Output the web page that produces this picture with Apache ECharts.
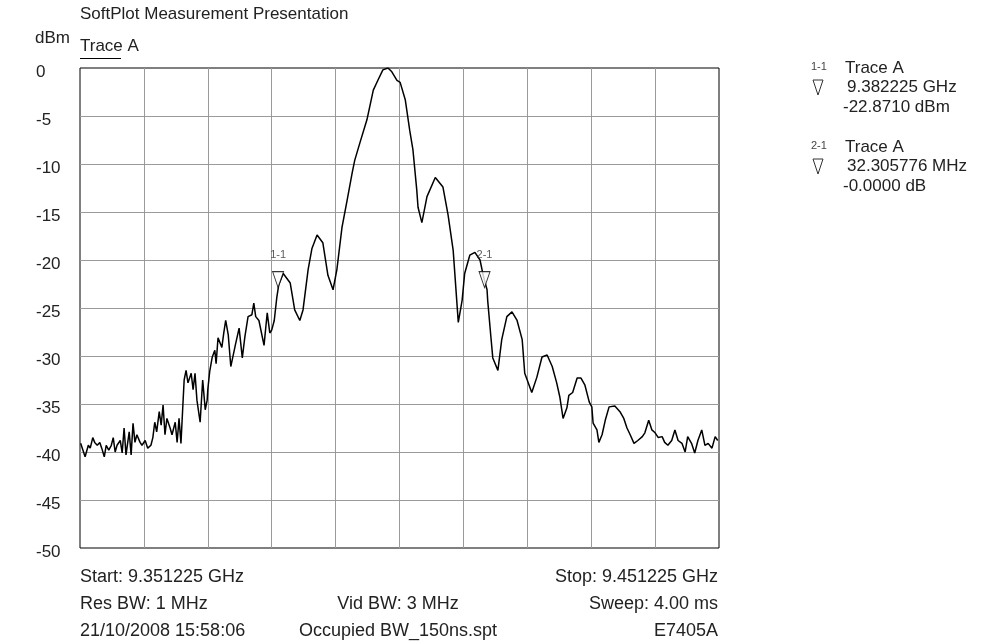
<!DOCTYPE html>
<html>
<head>
<meta charset="utf-8">
<script src="https://cdn.jsdelivr.net/npm/echarts@6/dist/echarts.min.js"></script>
<style>
html,body{margin:0;padding:0;background:#fff;}
#chart{width:981px;height:642px;}
</style>
</head>
<body>
<div id="chart"></div>
<script>
// Frequency offset from start (MHz), start = 9.351225 GHz, span 100 MHz
const traceFreqMHz = [
  0.1,0.8,1.3,1.6,2.0,2.3,2.7,3.1,3.4,3.8,4.1,4.5,4.9,5.2,5.5,5.8,6.3,6.6,6.9,7.2,
  7.7,8.0,8.3,8.6,8.9,9.4,9.7,10.2,10.6,11.1,11.4,11.7,12.0,12.4,12.7,13.0,13.3,13.6,14.1,14.4,
  14.9,15.2,15.5,15.8,16.1,16.3,16.6,16.9,17.4,17.7,18.0,18.3,18.8,19.2,19.6,19.9,20.0,20.3,20.7,21.1,
  21.3,21.6,22.2,22.5,22.8,23.2,23.6,24.3,24.9,25.4,25.8,26.3,26.9,27.2,27.5,28.0,28.8,29.3,29.7,30.0,
  30.4,30.8,31.1,31.8,32.1,32.9,33.6,34.4,34.9,35.7,36.3,37.1,38.0,38.8,39.6,40.2,41.0,41.8,42.6,43.0,
  43.8,44.9,45.9,46.6,47.4,48.2,48.8,49.6,50.1,50.9,51.6,52.1,52.7,52.9,53.5,54.3,55.6,56.8,57.6,58.4,
  59.2,59.8,60.2,61.0,61.8,62.6,63.1,63.7,63.8,64.3,64.6,65.4,66.0,66.8,67.6,68.4,69.2,69.6,70.7,71.5,
  72.3,73.1,73.9,74.6,75.1,75.6,76.2,76.5,77.1,77.8,78.4,79.0,79.7,80.1,80.3,80.9,81.2,81.7,82.2,82.8,
  83.7,84.5,85.1,85.6,86.1,86.7,87.3,88.0,88.4,88.7,89.0,89.5,90.0,90.5,91.1,91.5,92.0,92.6,93.1,93.6,
  94.2,94.7,95.1,95.7,96.2,96.7,97.3,97.8,98.3,98.9,99.4,99.8
];
const traceLevelDbm = [
  -39.1,-40.5,-39.3,-39.6,-38.5,-39.0,-39.3,-39.0,-39.6,-40.5,-39.3,-39.8,-39.3,-38.5,-40.0,-39.3,-38.8,-40.1,-37.5,-40.3,
  -37.9,-40.3,-37.0,-39.0,-38.2,-39.0,-39.3,-38.8,-39.6,-39.3,-38.5,-36.9,-37.9,-35.8,-37.2,-35.1,-38.2,-36.5,-37.5,-38.2,
  -36.9,-39.0,-36.5,-39.1,-35.1,-32.5,-31.5,-32.8,-31.8,-33.5,-31.8,-34.6,-36.9,-32.5,-35.6,-34.6,-33.5,-31.6,-30.1,-29.4,
  -30.8,-28.1,-29.1,-27.6,-26.3,-27.8,-31.1,-28.9,-27.1,-30.2,-28.0,-25.9,-25.7,-24.5,-25.9,-26.3,-28.9,-25.5,-27.6,-27.3,
  -26.3,-23.9,-22.6,-21.4,-21.4,-22.4,-25.2,-26.3,-25.2,-21.0,-18.8,-17.4,-18.2,-21.6,-23.1,-21.0,-16.6,-13.8,-10.9,-9.6,
  -7.8,-5.4,-2.3,-1.3,-0.2,0.0,-0.4,-1.3,-1.5,-3.3,-6.5,-8.5,-12.7,-14.5,-16.1,-13.4,-11.4,-12.4,-15.3,-19.0,
  -26.5,-24.2,-21.4,-19.5,-19.2,-20.0,-21.6,-23.1,-24.2,-28.0,-30.2,-31.5,-28.3,-25.9,-25.4,-26.3,-28.3,-31.8,-33.8,-32.2,
  -30.1,-29.9,-31.1,-32.8,-34.3,-36.5,-35.4,-34.1,-33.8,-32.3,-32.3,-33.0,-34.8,-35.3,-37.0,-37.7,-39.0,-38.2,-36.7,-35.3,
  -35.2,-35.8,-36.5,-37.5,-38.2,-39.1,-38.8,-38.4,-38.0,-38.2,-36.7,-37.7,-38.0,-38.5,-38.4,-39.0,-39.3,-38.8,-37.7,-38.8,
  -39.1,-40.0,-38.4,-39.1,-40.1,-38.8,-37.7,-39.3,-39.1,-39.6,-38.4,-38.8
];
const yTicks = [0,-5,-10,-15,-20,-25,-30,-35,-40,-45,-50];
const markerNames = ['1-1','2-1'];
const markerFreqMHz = [31.0, 63.305776];
const markerLevelDbm = [-22.871, -22.871];
const legendLines = [
  ['Trace A','9.382225 GHz','-22.8710 dBm'],
  ['Trace A','32.305776 MHz','-0.0000 dB']
];
const infoLeft = ['Start: 9.351225 GHz','Res BW: 1 MHz','21/10/2008 15:58:06'];
const infoMid = ['','Vid BW: 3 MHz','Occupied BW_150ns.spt'];
const infoRight = ['Stop: 9.451225 GHz','Sweep: 4.00 ms','E7405A'];

const FONT = '"Liberation Sans", Arial, sans-serif';
const FS = 17;
const chart = echarts.init(document.getElementById('chart'));

const traceData = traceFreqMHz.map((f,i)=>[f, traceLevelDbm[i]]);
const markerData = markerFreqMHz.map((f,i)=>({value:[f, markerLevelDbm[i]], name: markerNames[i]}));

const graphics = [];
const txt = (x,y,text,opt={}) => graphics.push({type:'text', x, y, style:Object.assign({text, font:FS+'px '+FONT, fill:'#222', textVerticalAlign:'middle'}, opt)});
txt(80,14,'SoftPlot Measurement Presentation');
txt(35,38,'dBm');
txt(80,46,'Trace A');
graphics.push({type:'line', shape:{x1:80,y1:58.5,x2:121,y2:58.5}, style:{stroke:'#000', lineWidth:1}});
const tri = (cx,cy)=>graphics.push({type:'polygon', shape:{points:[[cx-5,cy-7],[cx+5,cy-7],[cx,cy+8]]}, style:{fill:'#fff', stroke:'#333', lineWidth:1}});
[0,1].forEach(k=>{
  const y0 = 67 + k*79;
  txt(811,y0,markerNames[k],{font:'11px '+FONT, fill:'#444'});
  txt(845,y0+1,legendLines[k][0]);
  tri(818,y0+20);
  txt(847,y0+20,legendLines[k][1]);
  txt(843,y0+40,legendLines[k][2]);
});
[0,1,2].forEach(r=>{
  const y = 577 + r*27;
  const o = {font:'18px '+FONT};
  txt(80,y,infoLeft[r],o);
  if (infoMid[r]) txt(398,y,infoMid[r],Object.assign({textAlign:'center'},o));
  txt(718,y,infoRight[r],Object.assign({textAlign:'right'},o));
});

chart.setOption({
  animation:false,
  backgroundColor:'#fff',
  grid:{left:80, top:68, width:639, height:480, show:true, borderColor:'#000', borderWidth:1, backgroundColor:'transparent'},
  xAxis:{type:'value', min:0, max:100, interval:10,
    axisLine:{show:false}, axisTick:{show:false}, axisLabel:{show:false},
    splitLine:{show:true, showMinLine:false, showMaxLine:false, lineStyle:{color:'#9a9a9a', width:1}}},
  yAxis:{type:'value', min:-50, max:0, interval:5,
    axisLine:{show:false}, axisTick:{show:false},
    axisLabel:{show:true, align:'left', verticalAlign:'top', lineHeight:8, margin:44, fontSize:FS, fontFamily:FONT, color:'#222',
      formatter:(v)=> yTicks.includes(v) ? String(v) : ''},
    splitLine:{show:true, showMinLine:false, showMaxLine:false, lineStyle:{color:'#9a9a9a', width:1}}},
  series:[
    {type:'line', data:traceData, showSymbol:false, symbol:'none', lineStyle:{color:'#000', width:1.5}, z:3},
    {type:'scatter', data:markerData, symbol:'path://M0,0 L10,0 L5,15 Z', symbolSize:[11,16], symbolOffset:[0,'-50%'],
      itemStyle:{color:'#fff', borderColor:'#000', borderWidth:1}, z:4,
      label:{show:true, position:'top', distance:10, formatter:(p)=>p.name, fontSize:11, fontFamily:FONT, color:'#333'}}
  ],
  graphic:graphics
});
</script>
</body>
</html>
